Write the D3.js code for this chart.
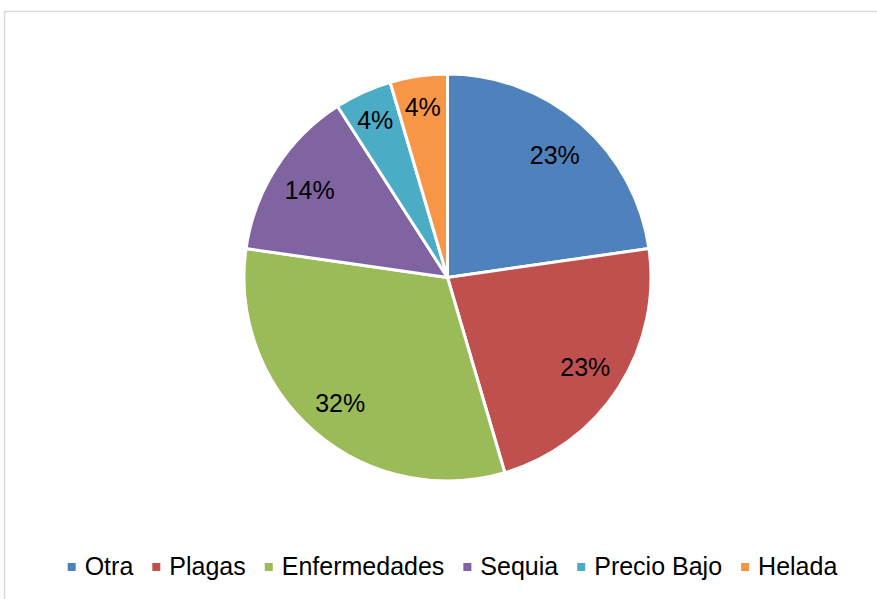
<!DOCTYPE html>
<html>
<head>
<meta charset="utf-8">
<script src="https://cdn.jsdelivr.net/npm/d3@7"></script>
<style>
  html, body { margin: 0; padding: 0; background: #fff; }
  svg { display: block; font-family: "Liberation Sans", Arial, sans-serif; }
</style>
</head>
<body>
<svg id="chart" width="877" height="599"></svg>
<script>
const categories = ["Otra", "Plagas", "Enfermedades", "Sequia", "Precio Bajo", "Helada"];
const values = [5, 5, 7, 3, 1, 1];
const labels = ["23%", "23%", "32%", "14%", "4%", "4%"];
const colors = ["#4F81BD", "#C0504D", "#9BBB59", "#8064A2", "#4BACC6", "#F79646"];

const svg = d3.select("#chart");

// chart border
svg.append("rect")
  .attr("x", 4.5).attr("y", 11.5)
  .attr("width", 1000).attr("height", 1000)
  .attr("fill", "none")
  .attr("stroke", "#d9d9d9")
  .attr("stroke-width", 1.5);

const cx = 447.5, cy = 277.5, r = 203.5;
const data = categories.map((c, i) => ({ cat: c, value: values[i], label: labels[i], color: colors[i] }));

const pie = d3.pie().sort(null).value(d => d.value);
const arcs = pie(data);
const arc = d3.arc().innerRadius(0).outerRadius(r);

const g = svg.append("g").attr("transform", `translate(${cx},${cy})`);
g.selectAll("path").data(arcs).enter().append("path")
  .attr("d", arc)
  .attr("fill", d => d.data.color)
  .attr("stroke", "#fff")
  .attr("stroke-width", 3)
  .attr("stroke-linejoin", "round");

const total = d3.sum(values);
g.selectAll("text.lbl").data(arcs).enter().append("text")
  .attr("class", "lbl")
  .attr("transform", d => {
    const frac = d.data.value / total;
    const lr = frac < 0.06 ? r * 0.855 : r * 0.805;
    const a = (d.startAngle + d.endAngle) / 2;
    return `translate(${lr * Math.sin(a)},${-lr * Math.cos(a) + 1.5})`;
  })
  .attr("text-anchor", "middle")
  .attr("dy", "0.35em")
  .attr("font-size", "25px")
  .attr("fill", "#000")
  .text(d => d.data.label);

// legend
const legend = svg.append("g");
const items = legend.selectAll("g").data(data).enter().append("g");
items.append("rect")
  .attr("width", 8).attr("height", 8)
  .attr("y", 563)
  .attr("fill", d => d.color);
items.append("text")
  .attr("y", 574.5)
  .attr("font-size", "25px")
  .attr("fill", "#000")
  .text(d => d.cat);

const widths = [];
items.each(function() { widths.push(d3.select(this).select("text").node().getComputedTextLength()); });
const markerToText = 17, itemGap = 19;
const totalW = d3.sum(widths) + widths.length * markerToText + (widths.length - 1) * itemGap;
let x = 452.5 - totalW / 2;
items.each(function(d, i) {
  const it = d3.select(this);
  it.select("rect").attr("x", x);
  it.select("text").attr("x", x + markerToText);
  x += markerToText + widths[i] + itemGap;
});
</script>
</body>
</html>
